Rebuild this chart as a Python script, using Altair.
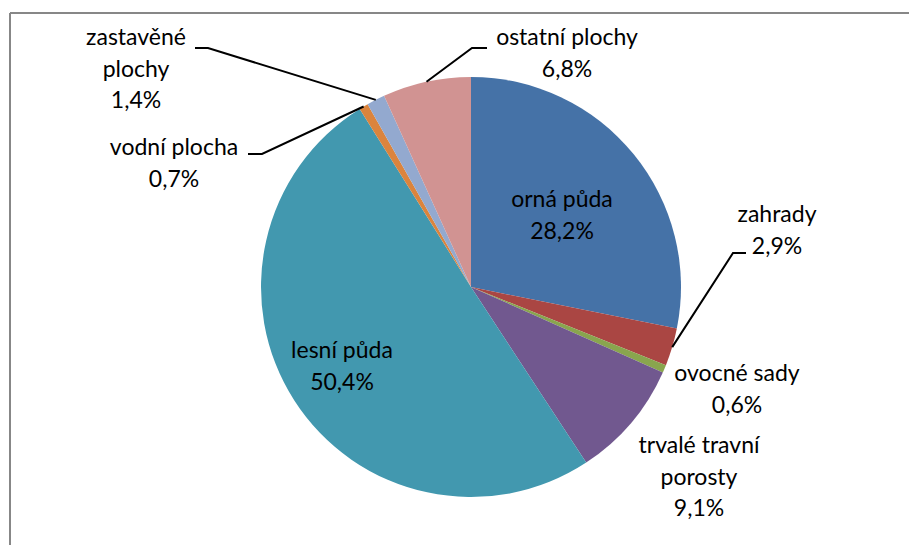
import math
import altair as alt
import pandas as pd

# ---- data ----
categories = ["orná půda", "zahrady", "ovocné sady", "trvalé travní porosty",
              "lesní půda", "vodní plocha", "zastavěné plochy", "ostatní plochy"]
values = [28.2, 2.9, 0.6, 9.1, 50.4, 0.7, 1.4, 6.8]
label_lines = [["orná půda"], ["zahrady"], ["ovocné sady"], ["trvalé travní", "porosty"],
               ["lesní půda"], ["vodní plocha"], ["zastavěné", "plochy"], ["ostatní plochy"]]
colors = ["#4572A7", "#AA4643", "#89A54E", "#71588F",
          "#4298AF", "#DB843D", "#93A9CF", "#D19392"]

# ---- layout (page pixel coordinates) ----
CX, CY, R = 471, 287, 210
W, H = 901, 537
label_x = [562, 777, 737, 699, 342, 174, 136, 567]
label_y = [200, 215, 374, 446, 351, 148, 38, 38]
LINE_H = 31.5
# leader lines: category -> (elbow, end)
leaders = {
    "zahrady": ((733, 253), (746, 253)),
    "vodní plocha": ((262, 154), (248, 154)),
    "zastavěné plochy": ((208, 48), (195, 48)),
    "ostatní plochy": ((472, 48), (487, 48)),
}

df = pd.DataFrame({"category": categories, "value": values, "idx": range(len(values))})
total = sum(values)

# label rows
rows = []
for i, cat in enumerate(categories):
    lines = label_lines[i] + [f"{values[i]:.1f}".replace(".", ",") + "%"]
    for j, t in enumerate(lines):
        rows.append({"category": cat, "text": t, "x": label_x[i], "y": label_y[i] + j * LINE_H})
labels = pd.DataFrame(rows)

# leader rows: start at slice edge on the mid angle
lrows = []
cum = 0.0
for i, cat in enumerate(categories):
    mid = (cum + values[i] / 2) / total * 2 * math.pi
    cum += values[i]
    if cat in leaders:
        ax = CX + R * math.sin(mid)
        ay = CY - R * math.cos(mid)
        (bx, by), (ex, ey) = leaders[cat]
        for k, (px, py) in enumerate([(ax, ay), (bx, by), (ex, ey)]):
            lrows.append({"category": cat, "k": k, "x": px, "y": py})
lead = pd.DataFrame(lrows)

xs = alt.Scale(domain=[8, 8 + W], nice=False, zero=False)
ys = alt.Scale(domain=[8, 8 + H], nice=False, zero=False, reverse=True)

pie = alt.Chart(df).mark_arc(radius=R, stroke=None).encode(
    theta=alt.Theta("value:Q", stack=True),
    order=alt.Order("idx:Q"),
    color=alt.Color("category:N", scale=alt.Scale(domain=categories, range=colors), legend=None),
    x=alt.datum(CX, scale=xs, axis=None),
    y=alt.datum(CY, scale=ys, axis=None),
)

lines = alt.Chart(lead).mark_line(color="black", strokeWidth=2).encode(
    x=alt.X("x:Q", scale=xs, axis=None),
    y=alt.Y("y:Q", scale=ys, axis=None),
    detail="category:N",
    order="k:Q",
)

text = alt.Chart(labels).mark_text(font="Lato", fontSize=23, color="black",
                                   align="center", baseline="middle").encode(
    x=alt.X("x:Q", scale=xs, axis=None),
    y=alt.Y("y:Q", scale=ys, axis=None),
    text="text:N",
)

frame_top = alt.Chart(df).mark_rule(color="#878787", strokeWidth=2).encode(
    x=alt.value(2), x2=alt.value(W + 20), y=alt.value(5))
frame_left = alt.Chart(df).mark_rule(color="#878787", strokeWidth=2).encode(
    x=alt.value(2), y=alt.value(5), y2=alt.value(H + 20))

chart = alt.layer(pie, lines, text, frame_top, frame_left).properties(
    width=W, height=H, autosize=alt.AutoSizeParams(type="none"), padding=0,
    background="white",
).configure_view(stroke=None)

chart.save("out.html", embed_options={"renderer": "svg", "actions": False})
